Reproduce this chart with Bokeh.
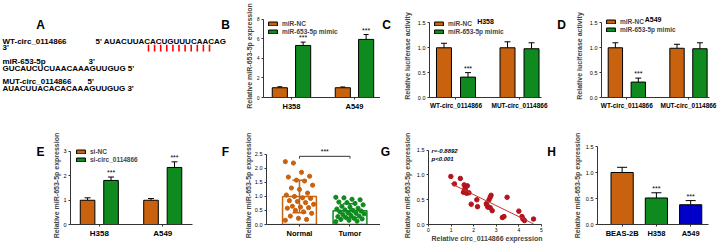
from bokeh.plotting import figure
from bokeh.models import (Range1d, Legend, LegendItem, ColumnDataSource,
                          Whisker, TeeHead, FixedTicker, PrintfTickFormatter)
from bokeh.layouts import row, column
from bokeh.embed import file_html
from bokeh.resources import INLINE
from bokeh.core.properties import value
import numpy as np

FONT = "Liberation Sans"
ORANGE = "#C8620E"
GREEN = "#0E8A1E"
BLUE = "#0000C8"
AXC = "#333333"
DOTRED = "#B3141E"
LINERED = "#C4372B"

# ---------------- data ----------------
b_cells = ["H358", "A549"]
b_nc = [1.0, 1.0]
b_nc_sd = [0.10, 0.08]
b_mimic = [5.33, 5.95]
b_mimic_sd = [0.34, 0.50]

cd_groups = ["WT-circ_0114866", "MUT-circ_0114866"]
c_nc = [1.0, 1.0]
c_nc_sd = [0.09, 0.12]
c_mimic = [0.41, 0.98]
c_mimic_sd = [0.09, 0.12]
d_nc = [1.0, 0.99]
d_nc_sd = [0.10, 0.08]
d_mimic = [0.31, 0.98]
d_mimic_sd = [0.08, 0.12]

e_cells = ["H358", "A549"]
e_nc = [0.99, 0.99]
e_nc_sd = [0.10, 0.07]
e_si = [1.80, 2.33]
e_si_sd = [0.14, 0.23]

f_groups = ["Normal", "Tumor"]
f_normal = [2.24, 2.19, 1.86, 1.72, 1.69, 1.58, 1.55, 1.40, 1.30, 1.25, 1.12, 1.05, 1.00,
            0.95, 0.93, 0.85, 0.82, 0.78, 0.72, 0.65, 0.62, 0.60, 0.58, 0.50, 0.45, 0.40,
            0.30, 0.22, 0.18, 0.15]
f_tumor = [0.97, 0.95, 0.90, 0.88, 0.80, 0.78, 0.75, 0.70, 0.65, 0.62, 0.58, 0.55, 0.52,
           0.50, 0.48, 0.45, 0.42, 0.40, 0.38, 0.35, 0.32, 0.30, 0.28, 0.25, 0.22, 0.20,
           0.18, 0.15, 0.12, 0.10]
f_mean = [1.0, 0.49]
f_sd = [0.58, 0.25]

g_circ = [0.99, 1.15, 1.41, 1.55, 1.58, 1.60, 1.62, 1.65, 1.69, 1.72, 1.79, 1.89, 2.14, 2.17,
          2.56, 2.59, 2.63, 2.68, 2.73, 2.73, 2.77, 2.82, 3.27, 3.34, 3.48, 4.00, 4.14, 4.18,
          4.25, 4.65]
g_mir = [0.97, 0.82, 0.93, 0.65, 0.80, 0.70, 0.73, 0.67, 0.63, 0.78, 0.64, 0.41, 0.50, 0.36,
         0.42, 0.39, 0.35, 0.50, 0.55, 0.34, 0.59, 0.28, 0.14, 0.16, 0.55, 0.27, 0.16, 0.11,
         0.08, 0.11]
g_r = "r=-0.8892"
g_p = "p<0.001"

h_cells = ["BEAS-2B", "H358", "A549"]
h_mean = [1.0, 0.51, 0.38]
h_sd = [0.10, 0.10, 0.08]
h_colors = [ORANGE, GREEN, BLUE]

ITEM_H = 8
LEG_SHIFT = 4


# ---------------- helpers ----------------
def text_fig(x0, y0, x1, y1):
    f = figure(width=x1 - x0, height=y1 - y0, x_range=Range1d(x0, x1), y_range=Range1d(y1, y0),
               min_border=0, x_axis_type=None, y_axis_type=None,
               output_backend="svg", toolbar_location=None)
    f.grid.visible = False
    f.outline_line_color = None
    return f


def letter(f, x, y, t):
    f.text(x=[x], y=[y], text=[t], text_font=value(FONT), text_font_size="12px",
           text_font_style="bold", text_baseline="middle", text_align="center")


def strip(x0, y0, x1, y1, t, lx, ly):
    f = text_fig(x0, y0, x1, y1)
    letter(f, lx, ly, t)
    return f


class Panel:
    def __init__(self, fig, frame, xr, yr):
        fl, ft, fr, fb = fig
        self.fl, self.ft, self.fr, self.fb = frame
        self.xr, self.yr = xr, yr
        self.p = figure(width=fr - fl, height=fb - ft,
                        x_range=Range1d(*xr), y_range=Range1d(*yr),
                        min_border_left=self.fl - fl, min_border_right=fr - self.fr,
                        min_border_top=self.ft - ft, min_border_bottom=fb - self.fb,
                        output_backend="svg", toolbar_location=None)
        p = self.p
        p.grid.visible = False
        p.outline_line_color = None

    def X(self, px):
        return self.xr[0] + (px - self.fl) / (self.fr - self.fl) * (self.xr[1] - self.xr[0])

    def Y(self, py):
        return self.yr[0] + (self.fb - py) / (self.fb - self.ft) * (self.yr[1] - self.yr[0])

    def text(self, px, py, t, size="7px", style="bold", align="center"):
        self.p.text(x=[self.X(px)], y=[self.Y(py)], text=[t], text_font=value(FONT),
                    text_font_size=size, text_font_style=style, text_align=align,
                    text_baseline="middle")

    def style(self, yticks, ylabel, xticks=None, xlabels=None, xlabel=None, yfmt=None,
              ytick_size="5.5px", xtick_size="7.5px", ylab_standoff=2, ylab_size="7px"):
        p = self.p
        for ax in p.axis:
            ax.axis_line_color = AXC
            ax.axis_line_width = 1
            ax.major_tick_line_color = AXC
            ax.major_tick_out = 2
            ax.major_tick_in = 0
            ax.minor_tick_line_color = None
            ax.major_label_text_font = FONT
            ax.axis_label_text_font = FONT
            ax.axis_label_text_font_style = "bold"
            ax.axis_label_text_font_size = ylab_size
            ax.major_label_standoff = 2
            ax.major_label_text_color = "black"
        p.yaxis.ticker = FixedTicker(ticks=yticks)
        p.yaxis.major_label_text_font_size = ytick_size
        p.yaxis.axis_label = ylabel
        p.yaxis.axis_label_standoff = ylab_standoff
        p.yaxis.bounds = (yticks[0], yticks[-1])
        if yfmt:
            p.yaxis.formatter = PrintfTickFormatter(format=yfmt)
        if xticks is not None:
            p.xaxis.ticker = FixedTicker(ticks=xticks)
            if xlabels is not None:
                p.xaxis.major_label_overrides = {int(t): l for t, l in zip(xticks, xlabels)}
        p.xaxis.major_label_text_font_size = xtick_size
        p.xaxis.major_label_text_font_style = "bold"
        if xlabel:
            p.xaxis.axis_label = xlabel
            p.xaxis.axis_label_standoff = 0
            p.xaxis.major_label_standoff = 1

    def legend(self, items, vx, first_center_py, spacing=0, size="6.5px"):
        n = len(items)
        h = n * ITEM_H + (n - 1) * spacing
        top_off = first_center_py - ITEM_H / 2 - self.ft
        vy = int(round((self.fb - self.ft) - top_off - h)) - LEG_SHIFT
        leg = Legend(items=[LegendItem(label=l, renderers=[r]) for l, r in items],
                     location=(vx, vy), padding=0, margin=0, spacing=spacing,
                     glyph_width=11, glyph_height=5, label_height=ITEM_H, label_standoff=4,
                     label_text_font=FONT, label_text_font_size=size,
                     label_text_font_style="bold", border_line_color=None,
                     background_fill_alpha=0)
        self.p.add_layout(leg)


def stars(p, xs, ys):
    p.text(x=list(xs), y=list(ys), text=["***"] * len(xs), text_font=value(FONT),
           text_font_size="7px", text_align="center", text_baseline="bottom", y_offset=-1)


def bars_with_err(panel, xs, means, sds, color, width, head=6, star=False):
    p = panel.p
    src = ColumnDataSource(dict(x=list(xs), top=list(means),
                                hi=[m + s for m, s in zip(means, sds)]))
    r = p.vbar(x="x", top="top", width=width, source=src, fill_color=color,
               line_color="black", line_width=1)
    p.add_layout(Whisker(base="x", lower="top", upper="hi", source=src, lower_head=None,
                         upper_head=TeeHead(size=head, line_color="black", line_width=1),
                         line_color="black", line_width=1))
    if star:
        stars(p, xs, [m + s for m, s in zip(means, sds)])
    return r


# ---------------- panel A (text) ----------------
pa = text_fig(0, 0, 240, 123)
a_texts = [("WT-circ_0114866", 2, 40), ("5' AUACUUACACUGUUUCAACAG", 95, 40), ("3'", 2, 49),
           ("miR-653-5p", 2, 70), ("3'", 88, 70), ("GUCAUCUCUAACAAAGUUGUG 5'", 2, 80),
           ("MUT-circ_0114866", 2, 100), ("5'", 87, 100), ("AUACUUACACACAAAGUUGUG 3'", 2, 109)]
pa.text(x=[t[1] for t in a_texts], y=[t[2] for t in a_texts], text=[t[0] for t in a_texts],
        text_font=value(FONT), text_font_size="8px", text_font_style="bold",
        text_baseline="middle", text_align="left")
n_pairs = 11
pair_x = [148 + i * (209 - 148) / (n_pairs - 1) for i in range(n_pairs)]
pa.segment(x0=pair_x, y0=45, x1=pair_x, y1=55, line_color="#FF0000", line_width=1.6)
letter(pa, 40, 15, "A")
letter(pa, 225, 15, "B")

# ---------------- panel B ----------------
B = Panel((240, 0, 380, 123), (263, 14, 380, 99), (0.556, 2.413), (0, 8.5))
xb = np.arange(1, len(b_cells) + 1)
rb1 = bars_with_err(B, xb - 0.185, b_nc, b_nc_sd, ORANGE, 0.24, head=5)
rb2 = bars_with_err(B, xb + 0.185, b_mimic, b_mimic_sd, GREEN, 0.24, head=5, star=True)
B.style([0, 2, 4, 6, 8], "Relative miR-653-5p expression", list(xb), b_cells,
        ytick_size="4.5px", ylab_standoff=1)
B.legend([("miR-NC", rb1), ("miR-653-5p mimic", rb2)], 4, 21.5)

# ---------------- panel C ----------------
sc = strip(380, 0, 400, 123, "C", 386, 15)
C = Panel((400, 0, 553, 123), (429, 10, 541, 99), (0.583, 2.346), (0, 1.669))
xc = np.arange(1, len(cd_groups) + 1)
rc1 = bars_with_err(C, xc - 0.189, c_nc, c_nc_sd, ORANGE, 0.236)
rc2 = bars_with_err(C, xc + 0.189, c_mimic, c_mimic_sd, GREEN, 0.236)
stars(C.p, [xc[0] + 0.189], [c_mimic[0] + c_mimic_sd[0]])
C.style([0, 0.5, 1.0, 1.5], "Relative luciferase activity", list(xc), cd_groups, yfmt="%.1f",
        xtick_size="6.5px", ylab_standoff=4)
C.legend([("miR-NC", rc1), ("miR-653-5p mimic", rc2)], 4, 20.5)
C.text(485, 17, "H358")

# ---------------- panel D ----------------
sd = strip(553, 0, 572, 123, "D", 561, 15)
D = Panel((572, 0, 719, 123), (596, 8, 709, 97), (0.589, 2.341), (0, 1.669))
rd1 = bars_with_err(D, xc - 0.186, d_nc, d_nc_sd, ORANGE, 0.233)
rd2 = bars_with_err(D, xc + 0.186, d_mimic, d_mimic_sd, GREEN, 0.233)
stars(D.p, [xc[0] + 0.186], [d_mimic[0] + d_mimic_sd[0]])
D.style([0, 0.5, 1.0, 1.5], "Relative luciferase activity", list(xc), cd_groups, yfmt="%.1f",
        xtick_size="6.5px", ylab_standoff=4)
D.legend([("miR-NC", rd1), ("miR-653-5p mimic", rd2)], 4, 17.5)
D.text(650, 13, "A549")

# ---------------- panel E ----------------
se = strip(0, 123, 50, 247, "E", 40, 132)
E = Panel((50, 123, 200, 247), (67, 144, 192, 229), (0.546, 2.469), (0, 3.1875))
xe = np.arange(1, len(e_cells) + 1)
re1 = bars_with_err(E, xe - 0.185, e_nc, e_nc_sd, ORANGE, 0.23)
re2 = bars_with_err(E, xe + 0.185, e_si, e_si_sd, GREEN, 0.23, star=True)
E.style([0, 1, 2, 3], "Relative miR-653-5p expression", list(xe), e_cells, ylab_standoff=0,
        xtick_size="8px")
E.legend([("si-NC", re1), ("si-circ_0114866", re2)], 5, 152, spacing=0)

# ---------------- panel F ----------------
sf = strip(200, 123, 240, 247, "F", 225, 132)
F = Panel((240, 123, 380, 247), (266, 134, 380, 224), (0.347, 2.604), (0, 2.78))
fp = F.p
fx = np.arange(1, len(f_groups) + 1)
fcol = [ORANGE, GREEN]
fp.vbar(x=fx, top=f_mean, width=0.67, fill_color=None, line_color=fcol, line_width=1.5)
for i, pts in enumerate([f_normal, f_tumor]):
    n = len(pts)
    offs = [(((k * 37) % 29) / 28.0 - 0.5) * 0.56 for k in range(n)]
    fp.scatter(x=[fx[i] + o for o in offs], y=pts, size=4.2, color=fcol[i])
    src = ColumnDataSource(dict(x=[fx[i]], lo=[f_mean[i] - f_sd[i]], hi=[f_mean[i] + f_sd[i]]))
    fp.add_layout(Whisker(base="x", lower="lo", upper="hi", source=src,
                          upper_head=TeeHead(size=14, line_color=fcol[i], line_width=1.5),
                          lower_head=TeeHead(size=14, line_color=fcol[i], line_width=1.5),
                          line_color=fcol[i], line_width=1.5))
br_top = 2.43
fp.line(x=[fx[0], fx[0], fx[1], fx[1]], y=[br_top - 0.08, br_top, br_top, br_top - 0.08],
        line_color=AXC, line_width=1)
stars(fp, [(fx[0] + fx[1]) / 2], [br_top])
F.style([0, 0.5, 1.0, 1.5, 2.0, 2.5], "Relative miR-653-5p expression", list(fx), f_groups,
        yfmt="%.1f", ylab_standoff=0)

# ---------------- panel G ----------------
sg = strip(380, 123, 398, 247, "G", 385, 132)
G = Panel((398, 123, 545, 247), (428, 140, 545, 224), (0, 5.18), (0, 1.575))
gp = G.p
gp.scatter(x=g_circ, y=g_mir, size=4.5, color=DOTRED)
slope, icpt = np.polyfit(g_circ, g_mir, 1)
gx = [min(g_circ), max(g_circ)]
gp.line(x=gx, y=[slope * v + icpt for v in gx], line_color=LINERED, line_width=1)
G.style([0, 0.5, 1.0, 1.5], "Relative miR-653-5p expression", [0, 1, 2, 3, 4, 5], None,
        xlabel="Relative circ_0114866 expression", yfmt="%.1f", ylab_standoff=3)
gp.xaxis.major_label_text_font_size = "5px"
gp.xaxis.major_label_text_font_style = "normal"
gp.xaxis.bounds = (0, 5)
G.text(431, 145, g_r, size="6px", style="bold italic", align="left")
G.text(431, 153, g_p, size="6px", style="bold italic", align="left")

# ---------------- panel H ----------------
sh = strip(545, 123, 570, 247, "H", 551, 132)
H = Panel((570, 123, 719, 247), (593, 146, 708, 225), (0.282, 3.52), (0, 1.5))
xh = np.arange(1, len(h_cells) + 1)
srch = ColumnDataSource(dict(x=list(xh), top=h_mean, c=h_colors,
                             hi=[m + s for m, s in zip(h_mean, h_sd)]))
H.p.vbar(x="x", top="top", width=0.648, fill_color="c", line_color="black", line_width=1,
         source=srch)
H.p.add_layout(Whisker(base="x", lower="top", upper="hi", source=srch, lower_head=None,
                       upper_head=TeeHead(size=10, line_color="black", line_width=1),
                       line_color="black", line_width=1))
stars(H.p, list(xh[1:]), [m + s for m, s in zip(h_mean[1:], h_sd[1:])])
H.style([0, 0.5, 1.0, 1.5], "Relative miR-653-5p expression", list(xh), h_cells, yfmt="%.1f",
        ylab_standoff=2)

layout = column(row(pa, B.p, sc, C.p, sd, D.p),
                row(se, E.p, sf, F.p, sg, G.p, sh, H.p))
open("out.html", "w").write(file_html(layout, INLINE))
